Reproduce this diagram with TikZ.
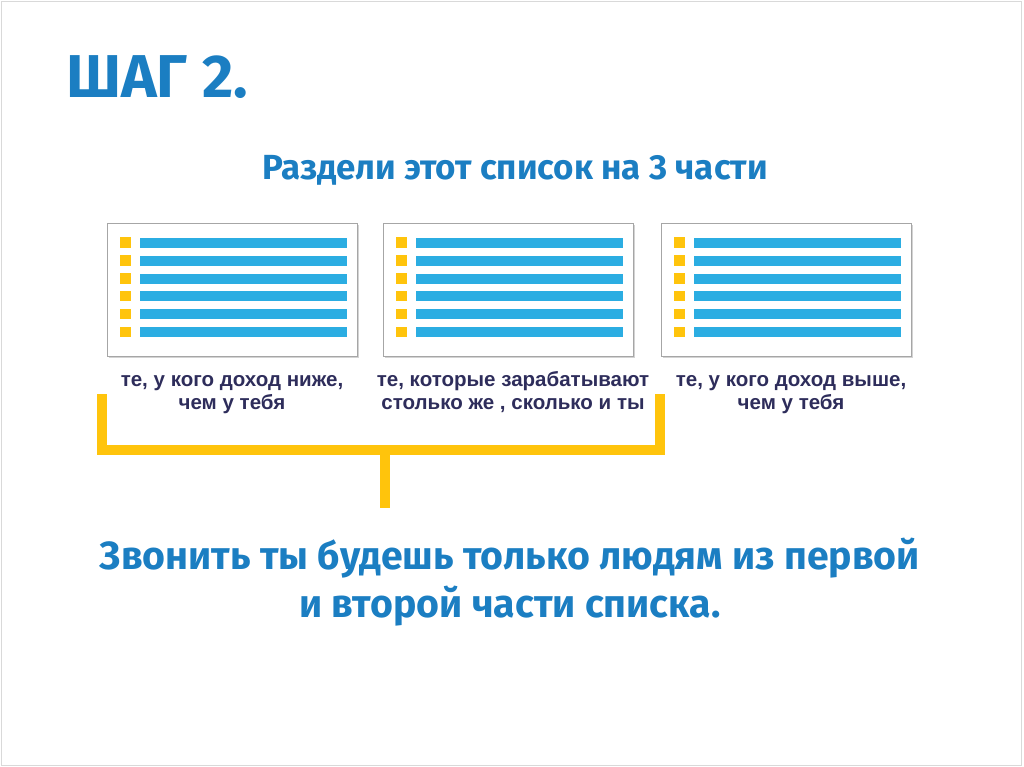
\documentclass[tikz,border=0pt]{standalone}
\usepackage{fontspec}
\setmainfont{Liberation Sans}
\newfontfamily\headfont{Fira Sans}
\usetikzlibrary{positioning}
\usetikzlibrary{shadows}
\definecolor{headblue}{HTML}{1B7EC2}
\definecolor{barblue}{HTML}{2BADE2}
\definecolor{markyellow}{HTML}{FFC40C}
\definecolor{labelnavy}{HTML}{2E2D5B}
\tikzset{listbox/.style={draw=black!35,fill=white,minimum width=6.25cm,minimum height=3.325cm,inner sep=0pt,
  drop shadow={shadow xshift=1.2pt,shadow yshift=-1.2pt,opacity=0.35}}}
\tikzset{caption/.style={text=labelnavy,font=\bfseries\fontsize{14.6}{17}\selectfont,align=center,inner sep=0pt,anchor=north}}
\tikzset{bracket/.style={draw=markyellow,line width=0.25cm,line join=miter}}

\begin{document}
\begin{tikzpicture}[x=0.025cm,y=-0.025cm]
    \useasboundingbox (0,0) rectangle (1024,767);
    \draw[black!15] (1,1) rectangle (1021,765);

    \node[anchor=west,text=headblue,font=\headfont\bfseries\fontsize{43}{43}\selectfont,inner sep=0pt] (step) at (66,77) {ШАГ 2.};
    \node[text=headblue,font=\headfont\bfseries\fontsize{24.8}{25}\selectfont,inner sep=0pt] (task) at (515,170) {Раздели этот список на 3 части};

    \node[listbox] (list1) at (232,289.5) {};
    \node[listbox] (list2) at (508,289.5) {};
    \node[listbox] (list3) at (786,289.5) {};

    \foreach \lx in {107,383,661}
      \foreach \r in {0,...,5} {
        \fill[markyellow] (\lx+13,237.5+17.8*\r) rectangle +(11,10.5);
        \fill[barblue] (\lx+33,238+17.8*\r) rectangle +(207,10);
      }

    \node[caption] (low) at (232,369) {\strut те, у кого доход ниже,\\чем у тебя};
    \node[caption] (same) at (513,369) {\strut те, которые зарабатывают\\столько же , сколько и ты};
    \node[caption] (high) at (791,369) {\strut те, у кого доход выше,\\чем у тебя};

    \coordinate (bl) at (102,394);
    \coordinate (br) at (660,394);
    \coordinate (mid) at (385,450);
    \coordinate (stem) at (385,508);
    \draw[bracket] (bl) |- (mid) -| (br);
    \draw[bracket] (mid) -- (stem);

    \node[text=headblue,font=\headfont\bfseries\fontsize{27.9}{34}\selectfont,align=center,inner sep=0pt,anchor=north] (call) at (510,538) {Звонить ты будешь только людям из первой\\и второй части списка.};
\end{tikzpicture}
\end{document}
